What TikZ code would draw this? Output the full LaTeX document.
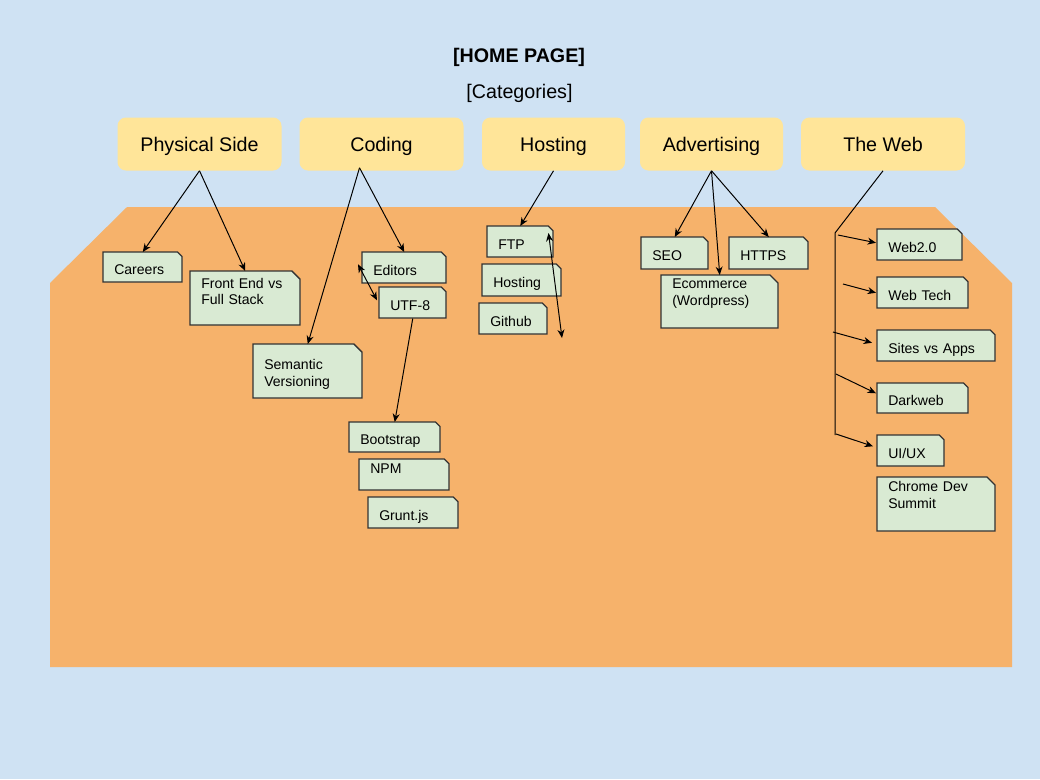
\documentclass[tikz,border=0pt]{standalone}
\usepackage{fontspec}
\setmainfont{Liberation Sans}
\usetikzlibrary{arrows.meta,calc}
\definecolor{skyback}{HTML}{CFE2F3}
\definecolor{peach}{HTML}{F6B26B}
\definecolor{butter}{HTML}{FFE599}
\definecolor{mint}{HTML}{D9EAD3}
\definecolor{inkline}{HTML}{333333}
\newcommand{\pxu}{0.025cm}
\tikzset{
  catbox/.style={rectangle,rounded corners=6pt,fill=butter,draw=none,minimum height=53*\pxu,align=center,text height=10.6pt,text depth=0pt,font=\fontsize{14}{17}\selectfont},
  notebox/.style={draw=inkline,line width=0.9pt,fill=mint},
  notetext/.style={rectangle,draw=none,inner xsep=7.8pt,inner ysep=2pt,align=left,text height=10.8pt,text depth=0pt,font=\fontsize{10}{12}\selectfont},
  topnote/.style={text height=7.2pt,text depth=#1},
  link/.style={-{Stealth[length=6pt,width=5pt]},line width=0.7pt,black},
  bothlink/.style={{Stealth[length=6pt,width=5pt]}-{Stealth[length=6pt,width=5pt]},line width=0.7pt,black},
  trunk/.style={line width=0.7pt,black}
}
% note card: [options]{name}{x1}{y1}{x2}{y2}{text}
\newcommand{\Note}[7][]{%
  \pgfmathsetmacro\notecut{0.15*(#6-#4)}%
  \pgfmathsetlengthmacro\notetw{(#5-#3-22)*0.025cm}%
  \pgfmathsetlengthmacro\noteht{(#6-#4)*0.025cm}%
  \draw[notebox] (#3,#4) -- (#5-\notecut,#4) -- (#5,#4+\notecut) -- (#5,#6) -- (#3,#6) -- cycle;
  \node[notetext,text width=\notetw,minimum height=\noteht,anchor=north west,#1] (#2) at (#3,#4) {#7};%
}

\begin{document}
\begin{tikzpicture}[x=0.025cm,y=-0.025cm]
    \fill[skyback] (0,0) rectangle (1040,779);
    \fill[peach] (127,207) -- (935,207) -- (1012,283) -- (1012,667) -- (50,667) -- (50,283) -- cycle;

    \node[font=\bfseries\fontsize{14}{17}\selectfont] (homepage) at (519,57) {[HOME PAGE]};
    \node[font=\fontsize{14}{17}\selectfont] (categories) at (519.5,93) {[Categories]};

    % categories
    \node[catbox,minimum width=164*\pxu] (physical) at (199.5,144) {Physical Side};
    \node[catbox,minimum width=164*\pxu] (coding) at (381.5,144) {Coding};
    \node[catbox,minimum width=143*\pxu] (hosting) at (553.5,144) {Hosting};
    \node[catbox,minimum width=143*\pxu] (advertising) at (711.5,144) {Advertising};
    \node[catbox,minimum width=164*\pxu] (theweb) at (883,144) {The Web};

    % pages
    \Note{careers}{103}{252}{182}{282}{Careers}
    \Note[topnote=21.7pt]{frontend}{190}{271}{300}{325}{Front End vs\\Full Stack}
    \Note[topnote=9.8pt]{semver}{253}{344}{362}{398}{Semantic\\Versioning}
    \Note{editors}{362}{252}{446}{283}{Editors}
    \Note{utf}{379}{287}{446}{318}{UTF-8}
    \Note{bootstrap}{349}{422}{440}{452}{Bootstrap}
    \Note[topnote=9pt]{npm}{359}{459}{449}{490}{NPM}
    \Note{grunt}{368}{497}{458}{528}{Grunt.js}
    \Note{ftp}{487}{226}{553}{257}{FTP}
    \Note{hostnote}{482}{264}{561}{296}{Hosting}
    \Note{github}{479}{303}{547}{334}{Github}
    \Note{seo}{641}{237}{708}{269}{SEO}
    \Note{https}{729}{237}{808}{269}{HTTPS}
    \Note[topnote=25.5pt]{ecommerce}{661}{275}{778}{328}{Ecommerce\\(Wordpress)}
    \Note{webtwo}{877}{229}{962}{260}{Web2.0}
    \Note{webtech}{877}{277}{968}{308}{Web Tech}
    \Note{sites}{877}{330}{995}{361}{Sites vs Apps}
    \Note{darkweb}{877}{383}{968}{413}{Darkweb}
    \Note{uiux}{877}{435}{944}{466}{UI/UX}
    \Note[topnote=25.5pt]{chrome}{877}{477}{995}{531}{Chrome Dev\\Summit}

    % links
    \draw[link] (physical.south) -- (careers.north);
    \draw[link] (physical.south) -- (frontend.north);
    \draw[link] ([shift={(-22,-3)}]coding.south) -- (semver.north);
    \draw[link] ([shift={(-22,-3)}]coding.south) -- (editors.north);
    \draw[bothlink] ([shift={(-4,-3.5)}]editors.west) -- ([shift={(-2,-2.5)}]utf.west);
    \draw[link] (utf.south) -- (bootstrap.north);
    \draw[link] (hosting.south) -- (ftp.north);
    \coordinate (ftpend) at (562,338);
    \draw[bothlink] ([shift={(-5,7)}]ftp.north east) -- (ftpend);
    \draw[link] (advertising.south) -- (seo.north);
    \draw[link] (advertising.south) -- (ecommerce.north);
    \draw[link] (advertising.south) -- (https.north);

    \coordinate (trunktop) at (835,233);
    \coordinate (trunkbot) at (835,435);
    \draw[trunk] (theweb.south) -- (trunktop) -- (trunkbot);
    \foreach \i/\bx/\by/\target/\sx/\sy in {1/838/235/webtwo/-1/-2,2/843/284/webtech/-1/0,3/833/332/sites/-5/-3,4/836/374/darkweb/-1/-5,5/836/434/uiux/-4/-4.5} {
      \coordinate (branch\i) at (\bx,\by);
      \draw[link] (branch\i) -- ([shift={(\sx,\sy)}]\target.west);
    }
\end{tikzpicture}
\end{document}
